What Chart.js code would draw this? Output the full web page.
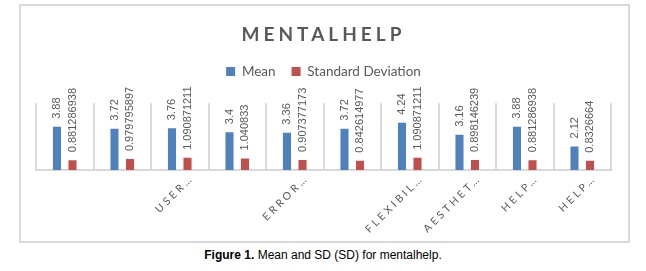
<!DOCTYPE html>
<html>
<head>
<meta charset="utf-8">
<script src="https://cdn.jsdelivr.net/npm/chart.js@4/dist/chart.umd.min.js"></script>
<style>
  body { margin: 0; background: #fff; width: 646px; height: 271px; position: relative; overflow: hidden; }
  #frame { position: absolute; left: 19px; top: 4px; width: 607px; height: 235px; border: 2px solid #d9d9d9; }
  #box { position: relative; width: 607px; height: 235px; }
  #caption { position: absolute; left: 0; top: 248px; width: 646px; text-align: center;
             font: 12px "Liberation Sans", Arial, sans-serif; color: #000; line-height: 14px; }
</style>
</head>
<body>
<div id="frame"><div id="box"><canvas id="myChart"></canvas></div></div>
<div id="caption"><b>Figure 1.</b> Mean and SD (SD) for mentalhelp.</div>
<script>
var labels = ['', '', 'USER…', '', 'ERROR…', '', 'FLEXIBIL…', 'AESTHET…', 'HELP…', 'HELP…'];
var meanData = [3.88, 3.72, 3.76, 3.4, 3.36, 3.72, 4.24, 3.16, 3.88, 2.12];
var sdData = [0.881286938, 0.979795897, 1.090871211, 1.040833, 0.907377173,
              0.842614977, 1.090871211, 0.898146239, 0.881286938, 0.8326664];

// wrap a draw method so its text gets Excel-like letter spacing
function spaced(obj, name, sp) {
  var f = obj[name];
  obj[name] = function () {
    var c = this.ctx;
    c.save();
    c.letterSpacing = sp;
    f.apply(this, arguments);
    c.restore();
  };
}

var spacing = {
  id: 'spacing',
  afterInit: function (chart) {
    spaced(chart.titleBlock, 'draw', '4px');
    // extra room under the legend, like the gap above the plot in the original
    var fit = chart.legend.fit;
    chart.legend.fit = function () {
      fit.apply(this, arguments);
      this.height += 15;
    };
  },
  beforeDraw: function (chart) {
    var x = chart.scales.x;
    if (!x._spaced) {
      spaced(x, 'drawLabels', '3px');
      x._spaced = true;
    }
  }
};

// values written vertically above each bar
var barLabels = {
  id: 'barLabels',
  afterDatasetsDraw: function (chart) {
    var ctx = chart.ctx;
    ctx.save();
    ctx.font = '11px "Liberation Sans", Arial, sans-serif';
    ctx.fillStyle = '#595959';
    ctx.textAlign = 'left';
    ctx.textBaseline = 'middle';
    chart.data.datasets.forEach(function (ds, i) {
      chart.getDatasetMeta(i).data.forEach(function (bar, j) {
        ctx.save();
        ctx.translate(bar.x, bar.y - 8);
        ctx.rotate(-Math.PI / 2);
        ctx.fillText(String(ds.data[j]), 0, 0);
        ctx.restore();
      });
    });
    ctx.restore();
  }
};

var ctx = document.getElementById('myChart').getContext('2d');
var myChart = new Chart(ctx, {
  type: 'bar',
  data: {
    labels: labels,
    datasets: [{
      label: 'Mean',
      data: meanData,
      backgroundColor: '#4f81bd',
      categoryPercentage: 0.54,
      barPercentage: 0.52
    }, {
      label: 'Standard Deviation',
      data: sdData,
      backgroundColor: '#c0504d',
      categoryPercentage: 0.54,
      barPercentage: 0.52
    }]
  },
  plugins: [spacing, barLabels],
  options: {
    responsive: true,
    maintainAspectRatio: false,
    animation: false,
    layout: {
      padding: { left: 15, right: 17, top: 0, bottom: 0 }
    },
    plugins: {
      title: {
        display: true,
        text: 'MENTALHELP',
        color: '#595959',
        font: { family: 'Lato', size: 19, weight: 'bold' },
        padding: { top: 17, bottom: 3 }
      },
      legend: {
        display: true,
        labels: {
          color: '#595959',
          font: { family: 'Lato', size: 13.5 },
          boxWidth: 9,
          boxHeight: 9,
          padding: 16
        }
      },
      tooltip: { enabled: false }
    },
    scales: {
      x: {
        afterFit: function (scale) { scale.height = 71; },
        grid: {
          offset: true,
          color: '#d9d9d9',
          lineWidth: 2,
          drawTicks: false
        },
        border: { color: '#d9d9d9', width: 2 },
        ticks: {
          autoSkip: false,
          minRotation: 45,
          maxRotation: 45,
          padding: 2,
          labelOffset: 12,
          color: '#595959',
          font: { family: 'Lato', size: 10.5 }
        }
      },
      y: {
        display: false,
        min: 0,
        max: 6
      }
    }
  }
});
</script>
</body>
</html>
